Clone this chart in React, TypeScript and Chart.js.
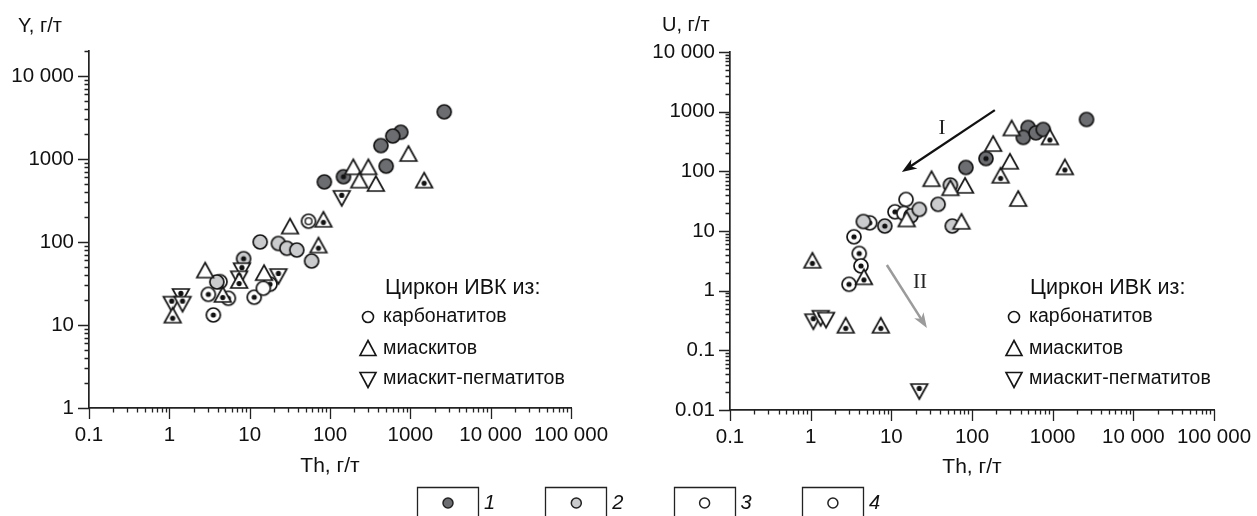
import React, { useEffect, useRef } from 'react';
import { Chart, registerables } from 'chart.js';

Chart.register(...registerables);

const W = 1257;
const H = 516;
const FONT = "'Liberation Sans', Arial, Helvetica, sans-serif";
const SERIF = "'Liberation Serif', 'Times New Roman', serif";

// ---------- axis ticks / labels ----------
const xTickValues = [0.1, 1, 10, 100, 1000, 10000, 100000];
const xTickLabels = ['0.1', '1', '10', '100', '1000', '10 000', '100 000'];
const yLeftTickValues = [1, 10, 100, 1000, 10000];
const yLeftTickLabels = ['1', '10', '100', '1000', '10 000'];
const yRightTickValues = [0.01, 0.1, 1, 10, 100, 1000, 10000];
const yRightTickLabels = ['0.01', '0.1', '1', '10', '100', '1000', '10 000'];

const xTitle = 'Th, г/т';
const leftYTitle = 'Y, г/т';
const rightYTitle = 'U, г/т';
const legendTitle = 'Циркон ИВК из:';
const legendItems = ['карбонатитов', 'миаскитов', 'миаскит-пегматитов'];
const bottomLegendLabels = ['1', '2', '3', '4'];

// ---------- left chart: Th vs Y (г/т) ----------
const leftDark = [[2640, 3700], [760, 2100], [605, 1890], [430, 1450], [500, 820], [85, 530]];
const leftDarkDot = [[147, 612]];
const leftLight = [[13.5, 100], [22.8, 96], [29, 84], [38.6, 80], [59, 59], [3.9, 33]];
const leftLightDot = [[8.4, 63]];
const leftOpen = [[14.8, 27.7]];
const leftOpenDot = [[4.28, 33.3], [3.06, 23.4], [5.43, 21], [3.53, 13.2], [11.4, 21.6], [17.9, 31]];
const leftRing = [[54, 178]];
const leftTri = [[2.79, 44], [15.1, 41], [31.8, 149], [195, 772], [300, 772], [232, 533], [372, 486], [948, 1117]];
const leftTriDot = [[82.8, 180], [71.8, 88], [1486, 533], [4.62, 22.4], [7.4, 33], [1.1, 12.6]];
const leftInvDot = [[140, 350], [22.8, 40], [8.0, 47], [7.4, 37.6], [1.39, 23], [1.07, 18.6], [1.46, 18.6]];

// ---------- right chart: Th vs U (г/т) ----------
const rightDark = [[2630, 740], [497, 543], [432, 370], [620, 442], [764, 503], [84, 116]];
const rightDarkDot = [[149, 164]];
const rightLight = [[38, 28], [57, 12.1], [17.5, 18], [22.2, 23], [4.5, 14.4]];
const rightLightDot = [[54, 59], [8.3, 12.1]];
const rightOpen = [[15.2, 33.8], [14.3, 19.7]];
const rightOpenDot = [[11.1, 21], [5.4, 13.7], [3.44, 8.0], [4.0, 4.2], [4.2, 2.6], [2.99, 1.28]];
const rightTri = [[183, 275], [31.5, 71], [82, 55], [54, 50], [74, 13.7], [15.5, 15], [310, 503], [295, 139], [374, 33]];
const rightTriDot = [[923, 356], [226, 81], [1416, 112], [1.05, 3.05], [4.57, 1.61], [2.72, 0.248], [7.4, 0.248]];
const rightInvDot = [[1.08, 0.32], [1.33, 0.366], [22.2, 0.0216]];
const rightInv = [[1.55, 0.34]];

// arrows (data coordinates Th, U)
const arrowI = { from: [192, 1060], to: [13.5, 97], label: 'I', labelAt: [42.4, 529] };
const arrowII = { from: [8.8, 2.69], to: [27.6, 0.237], label: 'II', labelAt: [22.6, 1.39] };

const DARK = '#6c6d70';
const LIGHT = '#cacbcd';
const WHITE = '#ffffff';
const INK = '#161616';

// ---------- helpers ----------
function makeMarker(shape: string, fill: string, dot: boolean, ring: boolean) {
  const c = document.createElement('canvas');
  const S = 24;
  c.width = S;
  c.height = S;
  const g = c.getContext('2d')!;
  g.translate(S / 2, S / 2);
  g.lineWidth = 1.7;
  g.strokeStyle = INK;
  g.fillStyle = fill;
  g.beginPath();
  if (shape === 'circle') g.arc(0, 0, 7, 0, Math.PI * 2);
  else if (shape === 'tri') {
    g.moveTo(0, -9);
    g.lineTo(8.3, 6);
    g.lineTo(-8.3, 6);
    g.closePath();
  } else {
    g.moveTo(0, 9);
    g.lineTo(8.3, -6);
    g.lineTo(-8.3, -6);
    g.closePath();
  }
  g.fill();
  g.stroke();
  if (ring) {
    g.beginPath();
    g.lineWidth = 1.4;
    g.arc(0, 0, 3.4, 0, Math.PI * 2);
    g.stroke();
  }
  if (dot) {
    const dy = shape === 'tri' ? 1.6 : shape === 'inv' ? -1.6 : 0;
    g.beginPath();
    g.fillStyle = '#111';
    g.arc(0, dy, 2.6, 0, Math.PI * 2);
    g.fill();
  }
  return c;
}

function ds(pairs: number[][], marker: HTMLCanvasElement, label: string) {
  return {
    label,
    data: pairs.map(([x, y]) => ({ x, y })),
    pointStyle: marker,
    pointRadius: 8,
    pointHoverRadius: 8,
    showLine: false,
  };
}

function logTicks(min: number, max: number) {
  const out: any[] = [];
  const e0 = Math.floor(Math.log10(min));
  const e1 = Math.ceil(Math.log10(max));
  for (let e = e0; e <= e1; e++) {
    for (let m = 1; m <= 9; m++) {
      const v = parseFloat((m * Math.pow(10, e)).toPrecision(6));
      if (v >= min * 0.9999 && v <= max * 1.0001) out.push({ value: v, major: m === 1 });
    }
  }
  return out;
}

function labelCb(values: number[], labels: string[]) {
  return (value: any) => {
    const v = Number(value);
    const i = values.findIndex((t) => Math.abs(t - v) / t < 1e-6);
    return i >= 0 ? labels[i] : '';
  };
}

const isDecade = (v: number) => Math.abs(Math.log10(v) - Math.round(Math.log10(v))) < 1e-6;

const tickMarks = {
  id: 'tickMarks',
  afterDraw(chart: any) {
    const ctx = chart.ctx;
    const ca = chart.chartArea;
    const xs = chart.scales.x;
    const ys = chart.scales.y;
    ctx.save();
    ctx.strokeStyle = '#222';
    ctx.lineWidth = 1.3;
    ctx.beginPath();
    xs.ticks.forEach((t: any) => {
      const px = Math.round(xs.getPixelForValue(t.value)) + 0.5;
      const len = isDecade(t.value) ? 11 : 4.5;
      ctx.moveTo(px, ca.bottom);
      ctx.lineTo(px, ca.bottom + len);
    });
    ys.ticks.forEach((t: any) => {
      const py = Math.round(ys.getPixelForValue(t.value)) + 0.5;
      const len = isDecade(t.value) ? 11 : 4.5;
      ctx.moveTo(ca.left - len, py);
      ctx.lineTo(ca.left, py);
    });
    ctx.stroke();
    ctx.restore();
  },
};

function drawShape(ctx: CanvasRenderingContext2D, shape: string, x: number, y: number) {
  ctx.beginPath();
  if (shape === 'circle') ctx.arc(x, y, 5.5, 0, Math.PI * 2);
  else if (shape === 'tri') {
    ctx.moveTo(x, y - 8.5);
    ctx.lineTo(x + 8, y + 6.5);
    ctx.lineTo(x - 8, y + 6.5);
    ctx.closePath();
  } else {
    ctx.moveTo(x, y + 8.5);
    ctx.lineTo(x + 8, y - 6.5);
    ctx.lineTo(x - 8, y - 6.5);
    ctx.closePath();
  }
  ctx.stroke();
}

function drawLegendBlock(ctx: CanvasRenderingContext2D, titleX: number, markerX: number, textX: number) {
  ctx.save();
  ctx.fillStyle = '#111';
  ctx.strokeStyle = INK;
  ctx.lineWidth = 1.6;
  ctx.textBaseline = 'middle';
  ctx.textAlign = 'left';
  ctx.font = `21.5px ${FONT}`;
  ctx.fillText(legendTitle, titleX, 288);
  ctx.font = `19.5px ${FONT}`;
  const shapes = ['circle', 'tri', 'inv'];
  const ys = [317, 349, 379];
  legendItems.forEach((t, i) => {
    drawShape(ctx, shapes[i], markerX, ys[i]);
    ctx.fillText(t, textX, ys[i]);
  });
  ctx.restore();
}

function drawBottomLegend(ctx: CanvasRenderingContext2D) {
  const fills = [DARK, LIGHT, WHITE, WHITE];
  ctx.save();
  ctx.strokeStyle = '#222';
  ctx.textBaseline = 'middle';
  ctx.textAlign = 'left';
  ctx.font = `italic 20px ${FONT}`;
  bottomLegendLabels.forEach((lab, i) => {
    const left = 417 + i * 128.3;
    const right = left + 61;
    ctx.lineWidth = 1.3;
    ctx.beginPath();
    ctx.moveTo(Math.round(left) + 0.5, 520);
    ctx.lineTo(Math.round(left) + 0.5, 487.5);
    ctx.lineTo(Math.round(right) + 0.5, 487.5);
    ctx.lineTo(Math.round(right) + 0.5, 520);
    ctx.stroke();
    ctx.beginPath();
    ctx.arc(left + 31, 503, 5, 0, Math.PI * 2);
    ctx.fillStyle = fills[i];
    ctx.fill();
    ctx.lineWidth = 1.5;
    ctx.stroke();
    ctx.fillStyle = '#111';
    ctx.fillText(lab, right + 6, 503);
  });
  ctx.restore();
}

function drawArrow(chart: any, a: any, color: string, width: number) {
  const ctx = chart.ctx;
  const xs = chart.scales.x;
  const ys = chart.scales.y;
  const x0 = xs.getPixelForValue(a.from[0]);
  const y0 = ys.getPixelForValue(a.from[1]);
  const x1 = xs.getPixelForValue(a.to[0]);
  const y1 = ys.getPixelForValue(a.to[1]);
  const dx = x1 - x0;
  const dy = y1 - y0;
  const L = Math.hypot(dx, dy);
  const ux = dx / L;
  const uy = dy / L;
  const head = 15;
  const hw = 5.5;
  ctx.save();
  ctx.strokeStyle = color;
  ctx.fillStyle = color;
  ctx.lineWidth = width;
  ctx.beginPath();
  ctx.moveTo(x0, y0);
  ctx.lineTo(x1 - ux * head * 0.7, y1 - uy * head * 0.7);
  ctx.stroke();
  ctx.beginPath();
  ctx.moveTo(x1, y1);
  ctx.lineTo(x1 - ux * head - uy * hw, y1 - uy * head + ux * hw);
  ctx.lineTo(x1 - ux * head * 0.72, y1 - uy * head * 0.72);
  ctx.lineTo(x1 - ux * head + uy * hw, y1 - uy * head - ux * hw);
  ctx.closePath();
  ctx.fill();
  ctx.fillStyle = '#222';
  ctx.font = `21px ${SERIF}`;
  ctx.textAlign = 'center';
  ctx.textBaseline = 'middle';
  ctx.fillText(a.label, xs.getPixelForValue(a.labelAt[0]), ys.getPixelForValue(a.labelAt[1]));
  ctx.restore();
}

const leftDecor = {
  id: 'leftDecor',
  afterDraw(chart: any) {
    const ctx = chart.ctx;
    ctx.save();
    ctx.fillStyle = '#111';
    ctx.textBaseline = 'middle';
    ctx.textAlign = 'left';
    ctx.font = `20px ${FONT}`;
    ctx.fillText(leftYTitle, 18, 26);
    ctx.restore();
    drawLegendBlock(ctx, 385, 368, 383);
    drawBottomLegend(ctx);
  },
};

const rightDecor = {
  id: 'rightDecor',
  afterDraw(chart: any) {
    const ctx = chart.ctx;
    ctx.save();
    ctx.fillStyle = '#111';
    ctx.textBaseline = 'middle';
    ctx.textAlign = 'left';
    ctx.font = `20px ${FONT}`;
    ctx.fillText(rightYTitle, 662, 25);
    ctx.restore();
    drawLegendBlock(ctx, 1030, 1014, 1029);
    drawArrow(chart, arrowI, '#111', 2.3);
    drawArrow(chart, arrowII, '#9b9b9b', 2.5);
  },
};

function axisX(min: number, max: number, height: number) {
  return {
    type: 'logarithmic',
    position: 'bottom',
    min,
    max,
    afterBuildTicks: (s: any) => {
      s.ticks = logTicks(min, max);
    },
    afterFit: (s: any) => {
      s.height = height;
    },
    grid: { display: false, drawTicks: true, tickLength: 11 },
    border: { display: true, color: '#222', width: 1.7 },
    ticks: {
      autoSkip: false,
      maxRotation: 0,
      minRotation: 0,
      padding: 4,
      color: '#111',
      font: { family: FONT, size: 20.5 },
      callback: labelCb(xTickValues, xTickLabels),
    },
    title: {
      display: true,
      text: xTitle,
      color: '#111',
      font: { family: FONT, size: 21 },
      padding: { top: 0, bottom: 0 },
    },
  };
}

function axisY(min: number, max: number, width: number, values: number[], labels: string[]) {
  return {
    type: 'logarithmic',
    position: 'left',
    min,
    max,
    afterBuildTicks: (s: any) => {
      s.ticks = logTicks(min, max);
    },
    afterFit: (s: any) => {
      s.width = width;
    },
    grid: { display: false, drawTicks: true, tickLength: 11 },
    border: { display: true, color: '#222', width: 1.7 },
    ticks: {
      autoSkip: false,
      padding: 4,
      color: '#111',
      font: { family: FONT, size: 20.5 },
      callback: labelCb(values, labels),
    },
  };
}

function buildDatasets(groups: any[]) {
  return groups.map(([pairs, shape, fill, dot, ring, name]) => ds(pairs, makeMarker(shape, fill, dot, ring), name));
}

export default function App() {
  const leftRef = useRef<HTMLCanvasElement>(null);
  const rightRef = useRef<HTMLCanvasElement>(null);

  useEffect(() => {
    const leftSets = buildDatasets([
      [leftTri, 'tri', WHITE, false, false, 'миаскиты'],
      [leftTriDot, 'tri', WHITE, true, false, 'миаскиты (точка)'],
      [leftInvDot, 'inv', WHITE, true, false, 'миаскит-пегматиты'],
      [leftLight, 'circle', LIGHT, false, false, 'карбонатиты 2'],
      [leftLightDot, 'circle', LIGHT, true, false, 'карбонатиты 2 (точка)'],
      [leftOpen, 'circle', WHITE, false, false, 'карбонатиты 3'],
      [leftOpenDot, 'circle', WHITE, true, false, 'карбонатиты 3 (точка)'],
      [leftRing, 'circle', WHITE, false, true, 'карбонатиты 4'],
      [leftDark, 'circle', DARK, false, false, 'карбонатиты 1'],
      [leftDarkDot, 'circle', DARK, true, false, 'карбонатиты 1 (точка)'],
    ]);
    const rightSets = buildDatasets([
      [rightTri, 'tri', WHITE, false, false, 'миаскиты'],
      [rightTriDot, 'tri', WHITE, true, false, 'миаскиты (точка)'],
      [rightInv, 'inv', WHITE, false, false, 'миаскит-пегматиты'],
      [rightInvDot, 'inv', WHITE, true, false, 'миаскит-пегматиты (точка)'],
      [rightLight, 'circle', LIGHT, false, false, 'карбонатиты 2'],
      [rightLightDot, 'circle', LIGHT, true, false, 'карбонатиты 2 (точка)'],
      [rightOpen, 'circle', WHITE, false, false, 'карбонатиты 3'],
      [rightOpenDot, 'circle', WHITE, true, false, 'карбонатиты 3 (точка)'],
      [rightDark, 'circle', DARK, false, false, 'карбонатиты 1'],
      [rightDarkDot, 'circle', DARK, true, false, 'карбонатиты 1 (точка)'],
    ]);

    const common = (extra: any) => ({
      responsive: false,
      animation: false,
      events: [],
      plugins: { legend: { display: false }, tooltip: { enabled: false } },
      ...extra,
    });

    const left = new Chart(leftRef.current as any, {
      type: 'scatter',
      data: { datasets: leftSets as any },
      options: common({
        layout: { padding: { left: 0, top: 51, right: W - 571, bottom: H - 408 - 71 } },
        scales: {
          x: axisX(0.1, 100000, 71),
          y: axisY(1, 20000, 89, yLeftTickValues, yLeftTickLabels),
        },
      }),
      plugins: [tickMarks, leftDecor],
    } as any);

    const right = new Chart(rightRef.current as any, {
      type: 'scatter',
      data: { datasets: rightSets as any },
      options: common({
        layout: { padding: { left: 730 - 80, top: 52, right: W - 1214, bottom: H - 410 - 70 } },
        scales: {
          x: axisX(0.1, 100000, 70),
          y: axisY(0.01, 10000, 80, yRightTickValues, yRightTickLabels),
        },
      }),
      plugins: [tickMarks, rightDecor],
    } as any);

    return () => {
      left.destroy();
      right.destroy();
    };
  }, []);

  return (
    <div style={{ position: 'fixed', left: 0, top: 0, width: W, height: H, background: '#fff', overflow: 'hidden' }}>
      <canvas ref={leftRef} width={W} height={H} style={{ position: 'absolute', left: 0, top: 0 }} />
      <canvas ref={rightRef} width={W} height={H} style={{ position: 'absolute', left: 0, top: 0 }} />
    </div>
  );
}
